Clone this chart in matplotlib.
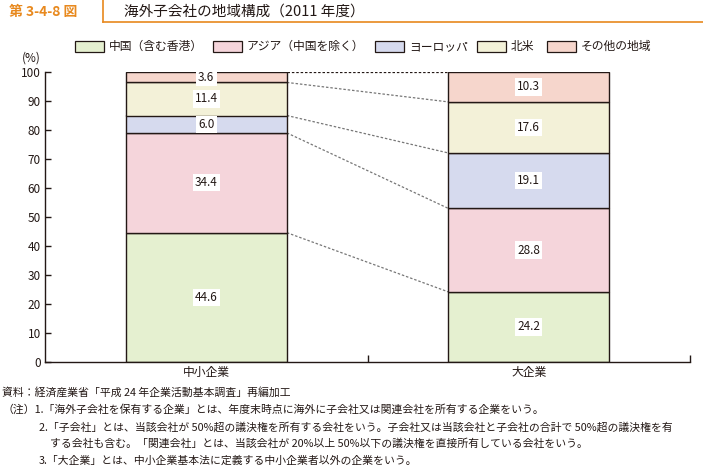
import matplotlib
matplotlib.use("Agg")
import matplotlib.pyplot as plt
from matplotlib.patches import Rectangle
from matplotlib.lines import Line2D

plt.rcParams['font.family'] = ['Noto Sans CJK JP', 'DejaVu Sans']

categories = ["中小企業", "大企業"]
series_names = ["中国（含む香港）", "アジア（中国を除く）", "ヨーロッパ", "北米", "その他の地域"]
china = [44.6, 24.2]
asia = [34.4, 28.8]
europe = [6.0, 19.1]
north_america = [11.4, 17.6]
other = [3.6, 10.3]
yticks = [0, 10, 20, 30, 40, 50, 60, 70, 80, 90, 100]

colors = ["#e5f0d0", "#f5d5db", "#d6daee", "#f3f1d8", "#f6d6cc"]
edge = "#231815"
text_c = "#231815"

W, H = 703, 467
fig = plt.figure(figsize=(W / 100, H / 100), dpi=100)

def fx(px):
    return px / W

def fy(py):
    return 1 - py / H

ax = fig.add_axes([fx(45), fy(362), fx(690) - fx(45), fy(72) - fy(362)])
series = [china, asia, europe, north_america, other]
x = list(range(len(categories)))
bw = 0.5
bottoms = [0.0] * len(categories)
tops_all = []
for vals, col in zip(series, colors):
    ax.bar(x, vals, bw, bottom=bottoms, color=col, edgecolor=edge, linewidth=1.0, zorder=2)
    for i, v in enumerate(vals):
        ax.text(x[i], bottoms[i] + v / 2, f"{v:.1f}", ha="center", va="center", fontsize=8.5,
                color=text_c, zorder=4,
                bbox=dict(facecolor="white", edgecolor="none", pad=1.5))
    bottoms = [b + v for b, v in zip(bottoms, vals)]
    tops_all.append(list(bottoms))

# connector lines between bars
for k, tops in enumerate(tops_all):
    if k == len(tops_all) - 1:
        ax.plot([x[0] + bw / 2, x[1] - bw / 2], [tops[0], tops[1]], color="#231815",
                linestyle=(0, (2, 1.5)), linewidth=0.9, zorder=1)
    else:
        ax.plot([x[0] + bw / 2, x[1] - bw / 2], [tops[0], tops[1]], color="#777777",
                linestyle=(0, (2, 1.5)), linewidth=0.9, zorder=1)

ax.set_xlim(-0.5, 1.5)
ax.set_ylim(0, 100)
ax.set_yticks(yticks)
ax.set_yticklabels([str(t) for t in yticks], fontsize=8.5, color=text_c)
ax.set_xticks([0.5, 1.5])
ax.set_xticklabels([])
ax.tick_params(axis="y", direction="in", length=4, width=1, colors=edge, pad=3)
ax.tick_params(axis="x", direction="in", length=5, width=1, colors=edge)
for i, c in enumerate(categories):
    ax.text(x[i], -1.5, c, ha="center", va="top", fontsize=8.5, color=text_c)
for s in ["top", "right"]:
    ax.spines[s].set_visible(False)
for s in ["left", "bottom"]:
    ax.spines[s].set_color(edge)
    ax.spines[s].set_linewidth(1.0)

fig.text(fx(22), fy(58), "(%)", fontsize=8.5, color=text_c, va="center", ha="left")

# title header
orange = "#e8891e"
fig.text(fx(9), fy(12), "第 3-4-8 図", fontsize=10, fontweight="bold", color=orange, va="center", ha="left")
fig.text(fx(124), fy(12), "海外子会社の地域構成（2011 年度）", fontsize=10.5, color=text_c, va="center", ha="left")
fig.add_artist(Line2D([fx(103), fx(103)], [fy(0), fy(22)], color=orange, linewidth=1.2))
fig.add_artist(Line2D([fx(103), fx(703)], [fy(22), fy(22)], color=orange, linewidth=1.2))

# legend
leg_x = [75, 213, 375, 477, 547]
for lx, name, col in zip(leg_x, series_names, colors):
    fig.add_artist(Rectangle((fx(lx), fy(52)), fx(29), fy(41) - fy(52), facecolor=col,
                             edgecolor=edge, linewidth=0.9))
    fig.text(fx(lx + 34), fy(46.5), name, fontsize=8.5, color=text_c, va="center", ha="left")

# footnotes
fs = 7.8
fig.text(fx(2), fy(392), "資料：経済産業省「平成 24 年企業活動基本調査」再編加工", fontsize=fs, color=text_c, va="center")
fig.text(fx(2), fy(409), "（注）1.「海外子会社を保有する企業」とは、年度末時点に海外に子会社又は関連会社を所有する企業をいう。",
         fontsize=fs, color=text_c, va="center")
fig.text(fx(39), fy(427), "2.「子会社」とは、当該会社が 50%超の議決権を所有する会社をいう。子会社又は当該会社と子会社の合計で 50%超の議決権を有",
         fontsize=fs, color=text_c, va="center")
fig.text(fx(50), fy(444), "する会社も含む。「関連会社」とは、当該会社が 20%以上 50%以下の議決権を直接所有している会社をいう。",
         fontsize=fs, color=text_c, va="center")
fig.text(fx(39), fy(461), "3.「大企業」とは、中小企業基本法に定義する中小企業者以外の企業をいう。",
         fontsize=fs, color=text_c, va="center")

fig.savefig("out.png", dpi=100)
